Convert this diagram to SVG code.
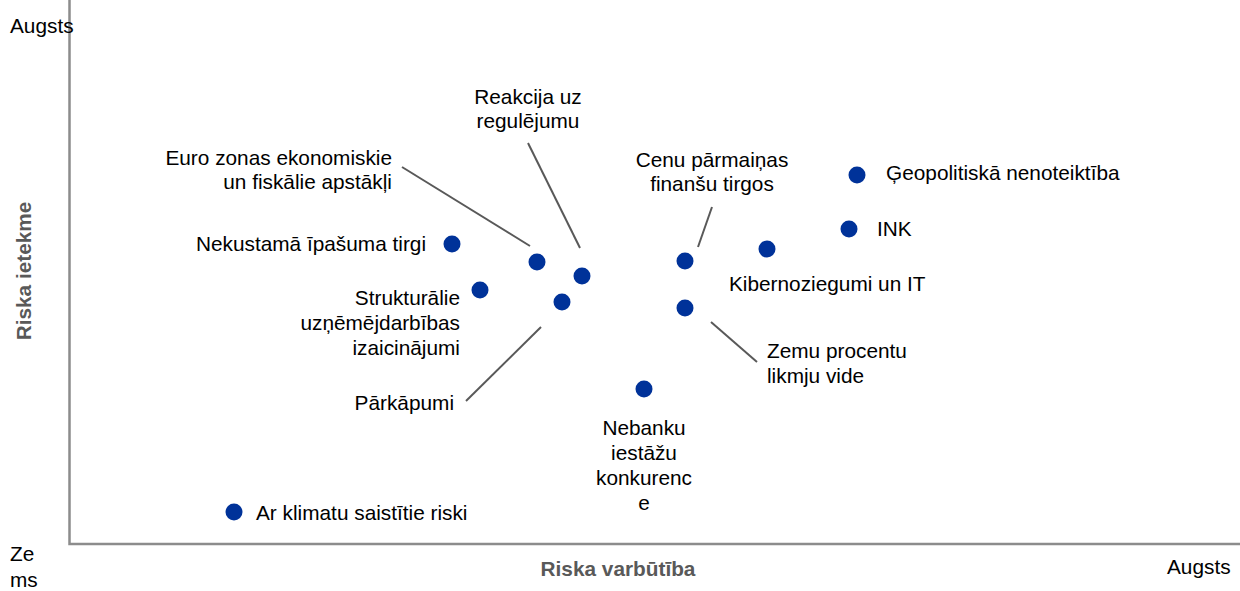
<svg xmlns="http://www.w3.org/2000/svg" width="1240" height="591" viewBox="0 0 1240 591">
<style>
text{font-family:"Liberation Sans",Arial,sans-serif;font-size:20.8px;fill:#000}
.ax{font-weight:bold;fill:#595959}
.e{text-anchor:end}.m{text-anchor:middle}
.dot{fill:#003299}
.ld{stroke:#595959;stroke-width:2;fill:none}
.axis{stroke:#8c8c8c;stroke-width:2.5;fill:none}
</style>
<rect width="1240" height="591" fill="#fff"/>
<g id="axes">
<path class="axis" d="M69.5,0 V544 H1240"/>
<text x="10" y="33">Augsts</text>
<text x="10" y="561">Ze</text>
<text x="10" y="587">ms</text>
<text x="1167" y="574">Augsts</text>
<text class="ax m" x="618" y="576">Riska varbūtība</text>
<text class="ax m" transform="translate(31,271) rotate(-90)">Riska ietekme</text>
</g>
<g id="connectors">
<line class="ld" x1="402" y1="167" x2="530" y2="246"/>
<line class="ld" x1="528" y1="143" x2="580" y2="248"/>
<line class="ld" x1="712" y1="207" x2="698" y2="247"/>
<line class="ld" x1="541" y1="327" x2="466" y2="401"/>
<line class="ld" x1="711" y1="322" x2="757" y2="362"/>
</g>
<g id="n-nekustama"><circle class="dot" cx="452" cy="244" r="8.5"/><text class="e" x="426" y="251">Nekustamā īpašuma tirgi</text></g>
<g id="n-strukturalie"><circle class="dot" cx="480" cy="290" r="8.5"/><text class="e" x="460" y="305">Strukturālie</text><text class="e" x="460" y="330">uzņēmējdarbības</text><text class="e" x="460" y="355">izaicinājumi</text></g>
<g id="n-euro"><circle class="dot" cx="537" cy="262" r="8.5"/><text class="e" x="392" y="165">Euro zonas ekonomiskie</text><text class="e" x="392" y="189">un fiskālie apstākļi</text></g>
<g id="n-reakcija"><circle class="dot" cx="582" cy="276" r="8.5"/><text class="m" x="528" y="104">Reakcija uz</text><text class="m" x="528" y="128">regulējumu</text></g>
<g id="n-parkapumi"><circle class="dot" cx="562" cy="302" r="8.5"/><text class="e" x="454" y="410">Pārkāpumi</text></g>
<g id="n-cenu"><circle class="dot" cx="685" cy="261" r="8.5"/><text class="m" x="712" y="167">Cenu pārmaiņas</text><text class="m" x="712" y="191">finanšu tirgos</text></g>
<g id="n-zemu"><circle class="dot" cx="685" cy="308" r="8.5"/><text x="767" y="358">Zemu procentu</text><text x="767" y="383">likmju vide</text></g>
<g id="n-nebanku"><circle class="dot" cx="644" cy="389" r="8.5"/><text class="m" x="644" y="435">Nebanku</text><text class="m" x="644" y="460">iestāžu</text><text class="m" x="644" y="485">konkurenc</text><text class="m" x="644" y="510">e</text></g>
<g id="n-kiber"><circle class="dot" cx="767" cy="249" r="8.5"/><text x="729" y="291">Kibernoziegumi un IT</text></g>
<g id="n-ink"><circle class="dot" cx="849" cy="229" r="8.5"/><text x="877" y="236">INK</text></g>
<g id="n-geopol"><circle class="dot" cx="857" cy="175" r="8.5"/><text x="886" y="180">Ģeopolitiskā nenoteiktība</text></g>
<g id="n-klimat"><circle class="dot" cx="234" cy="512" r="8.5"/><text x="256" y="520">Ar klimatu saistītie riski</text></g>
</svg>
